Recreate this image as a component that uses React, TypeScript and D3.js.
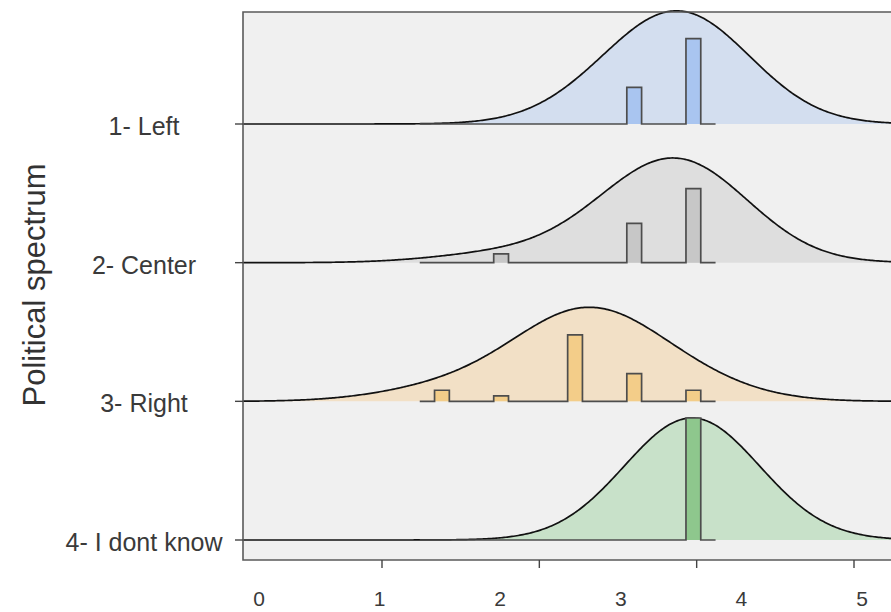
import * as d3 from 'd3';

// rows of the ridgeline plot
const groups = ['1- Left', '2- Center', '3- Right', '4- I dont know'];

// response values (x) and how many answers fall on each, per group
const responseValues = [2.38, 2.75, 3.22, 3.6, 3.97];
const leftCounts = [0, 0, 0, 3, 7];
const centerCounts = [0, 2, 0, 9, 17];
const rightCounts = [2, 1, 12, 5, 2];
const dontKnowCounts = [0, 0, 0, 0, 8];
const groupCounts = [leftCounts, centerCounts, rightCounts, dontKnowCounts];

// histogram binning + kde bandwidth
const binStart = 2.24;
const binEnd = 4.12;
const binCount = 20;
const bandwidth = 0.43;

// axis
const tickValues = [2, 3, 4, 5];
const tickLabels = ['0', '1', '2', '3', '4', '5'];

const fillColors = ['#d3deef', '#dedede', '#f2e0c6', '#c8e1c9'];
const barColors = ['#a9c5f0', '#c7c7c7', '#f3cd89', '#8ec78d'];

const W = 891;
const H = 612;
const panel = { left: 243, top: 12, right: 905, bottom: 560 };
const maxRidge = 122;

const gauss = (u: number) => Math.exp(-0.5 * u * u) / Math.sqrt(2 * Math.PI);

export default function App() {
  const x = d3.scaleLinear().domain([2, 5]).range([382, 854]);
  const labelX = d3.scaleLinear().domain([0, 5]).range([259, 862]);
  const y = d3.scalePoint<string>().domain(groups).range([124, 540]);

  const grid = d3.range(x.invert(panel.left), x.invert(panel.right), 0.01);
  const binWidth = (binEnd - binStart) / binCount;
  const thresholds = d3.range(1, binCount).map(i => binStart + i * binWidth);

  const rows = groups.map((g, gi) => {
    const counts = groupCounts[gi];
    const n = d3.sum(counts);
    const density = grid.map(p => [
      p,
      d3.sum(responseValues, (v, i) => (counts[i] / n) * gauss((p - v) / bandwidth) / bandwidth),
    ]);
    const sample = responseValues.flatMap((v, i) => d3.range(counts[i]).map(() => v));
    const bins = d3.bin().domain([binStart, binEnd]).thresholds(thresholds)(sample);
    const hist = bins.map(b => [b.x0 as number, b.length / n]);
    hist.push([bins[bins.length - 1].x1 as number, 0]);
    return { g, gi, density, hist };
  });

  const maxDensity = d3.max(rows, r => d3.max(r.density, d => d[1])) as number;
  const maxProp = d3.max(rows, r => d3.max(r.hist, d => d[1])) as number;
  const dy = d3.scaleLinear().domain([0, maxDensity]).range([0, maxRidge]);
  const hy = d3.scaleLinear().domain([0, maxProp]).range([0, maxRidge]);

  return (
    <svg
      width={W}
      height={H}
      style={{ position: 'absolute', left: 0, top: 0, fontFamily: 'Liberation Sans, Arial, sans-serif' }}
    >
      <defs>
        <clipPath id="panel-clip">
          <rect x={panel.left} y={0} width={panel.right - panel.left} height={panel.bottom} />
        </clipPath>
      </defs>
      <rect
        x={panel.left}
        y={panel.top}
        width={panel.right - panel.left}
        height={panel.bottom - panel.top}
        fill="#f0f0f0"
      />

      <g clipPath="url(#panel-clip)">
        {rows.map(r => {
          const base = y(r.g) as number;
          const area = d3.area<number[]>()
            .x(d => x(d[0]))
            .y0(base)
            .y1(d => base - dy(d[1]));
          const line = d3.line<number[]>()
            .x(d => x(d[0]))
            .y(d => base - dy(d[1]));
          const histArea = d3.area<number[]>()
            .curve(d3.curveStepAfter)
            .x(d => x(d[0]))
            .y0(base)
            .y1(d => base - hy(d[1]));
          const histLine = d3.line<number[]>()
            .curve(d3.curveStepAfter)
            .x(d => x(d[0]))
            .y(d => base - hy(d[1]));
          return (
            <g key={r.g}>
              <path d={area(r.density) as string} fill={fillColors[r.gi]} />
              <path d={line(r.density) as string} fill="none" stroke="#111" strokeWidth={1.7} />
              <path d={histArea(r.hist) as string} fill={barColors[r.gi]} />
              <path d={histLine(r.hist) as string} fill="none" stroke="#4d4d4d" strokeWidth={1.7} />
            </g>
          );
        })}
      </g>

      {/* panel border */}
      <path
        d={`M${panel.right},${panel.top}H${panel.left}V${panel.bottom}H${panel.right}`}
        fill="none"
        stroke="#5a5a5a"
        strokeWidth={1.6}
      />

      {/* y axis */}
      {groups.map(g => (
        <g key={g} transform={`translate(0,${y(g)})`}>
          <line x1={235} x2={panel.left} stroke="#444" strokeWidth={1.4} />
          <text x={144} y={11} textAnchor="middle" fontSize={25} fill="#3a3a3a">{g}</text>
        </g>
      ))}

      {/* x axis */}
      {tickValues.map(t => (
        <line key={t} x1={x(t)} x2={x(t)} y1={panel.bottom} y2={panel.bottom + 8} stroke="#444" strokeWidth={1.4} />
      ))}
      {tickLabels.map((l, i) => (
        <text key={l} x={labelX(i)} y={606} textAnchor="middle" fontSize={21} fill="#3a3a3a">{l}</text>
      ))}

      <text
        transform={`translate(45,285) rotate(-90)`}
        textAnchor="middle"
        fontSize={31}
        fill="#333"
      >
        Political spectrum
      </text>
    </svg>
  );
}
